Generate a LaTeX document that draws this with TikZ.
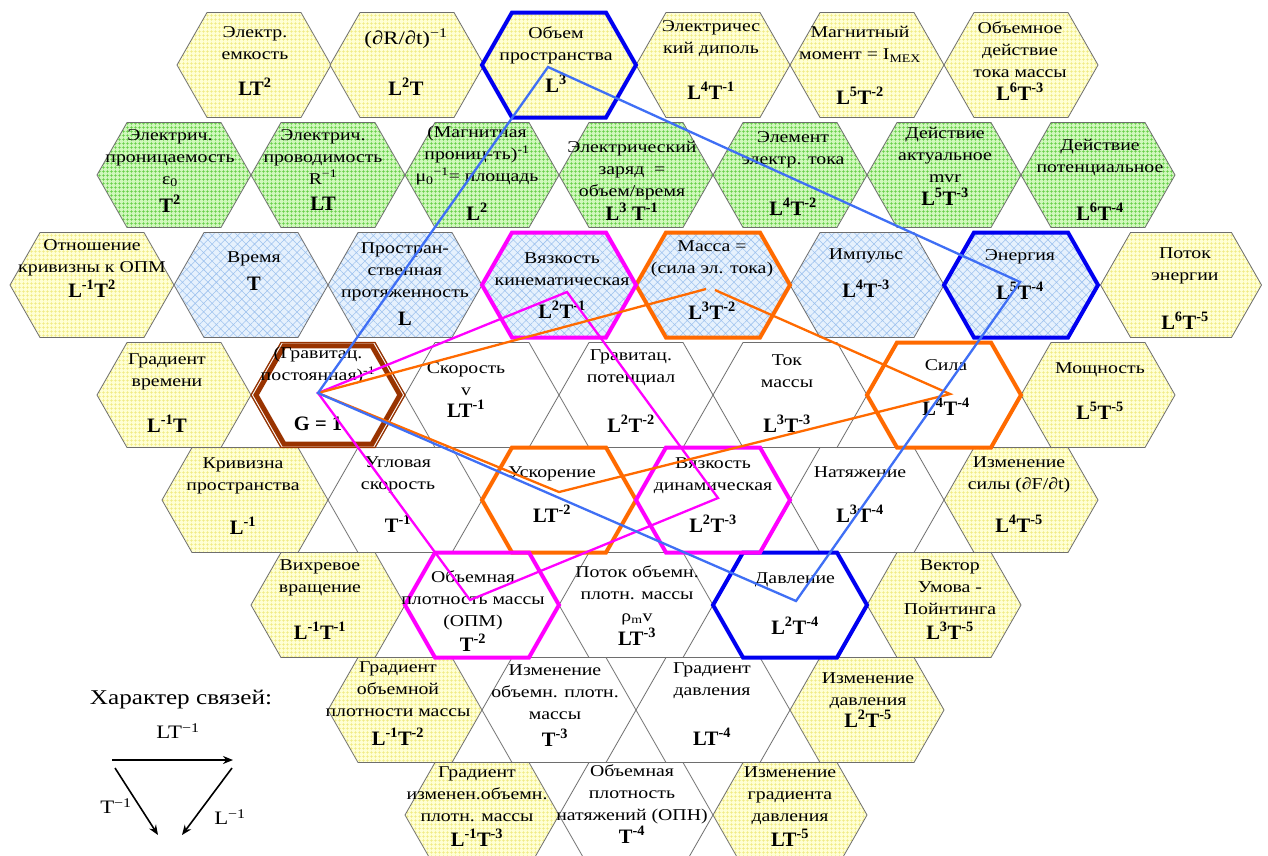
\documentclass[tikz,border=0pt]{standalone}
\usepackage{fontspec}
\setmainfont{Liberation Serif}
\newfontfamily\labfont{Liberation Serif}[FakeStretch=1.2]
\usetikzlibrary{patterns.meta,arrows.meta}
\definecolor{hexgray}{HTML}{6E6E6E}
\definecolor{yelbg}{HTML}{FFFFD4}
\definecolor{yelgrid}{HTML}{F0EA80}
\definecolor{grnbg}{HTML}{D0F8BC}
\definecolor{grngrid}{HTML}{5FCC40}
\definecolor{blubg}{HTML}{E6F1FD}
\definecolor{blugrid}{HTML}{9EC2EE}
\definecolor{hblue}{HTML}{0000F0}
\definecolor{horange}{HTML}{FF6A00}
\definecolor{hmag}{HTML}{FF00FF}
\definecolor{hbrown}{HTML}{993300}
\definecolor{lblue}{HTML}{3F6FF5}
\newcommand\su[1]{\textsuperscript{#1}}
\newcommand\hexline[4][77]{%
  \path[shift={(#3,#4)},#2] (-#1,0) -- ({-#1+30},-52.5) -- ({#1-30},-52.5) -- (#1,0) -- ({#1-30},52.5) -- ({-#1+30},52.5) -- cycle;}
\newcommand\hexcell[5][77]{%
  \hexline[#1]{#2}{#4}{#5}\coordinate (#3) at (#4,#5);}
\newcommand\celltext[6]{%
  \node[lab,anchor=north] (t#1) at (#2,#3) {#4};
  \node[frm,anchor=base] (f#1) at (#2,#5) {#6};}
\tikzset{
  cellbase/.style={draw=hexgray, line width=0.8pt},
  yel/.style={cellbase, preaction={fill=yelbg}, preaction={pattern={Hatch[angle=0,distance=4pt,line width=0.4pt]}, pattern color=yelgrid}},
  grn/.style={cellbase, preaction={fill=grnbg}, preaction={pattern={Hatch[angle=0,distance=4pt,line width=0.55pt]}, pattern color=grngrid}},
  blu/.style={cellbase, preaction={fill=blubg}, preaction={pattern={Hatch[angle=45,distance=6pt,line width=0.55pt]}, pattern color=blugrid}},
  wht/.style={cellbase, fill=white},
  hlblue/.style={draw=hblue, line width=4pt},
  hlorange/.style={draw=horange, line width=4pt},
  hlmag/.style={draw=hmag, line width=4pt},
  lab/.style={font=\labfont\fontsize{16.5}{22}\selectfont, align=center, inner sep=0pt},
  frm/.style={font=\fontsize{20.5}{24}\selectfont\bfseries, inner sep=0pt},
  legtext/.style={font=\labfont\fontsize{19}{23}\selectfont, inner sep=0pt},
  legarrow/.style={line width=1.6pt, -{Stealth[length=10pt,width=8pt]}},
  linkblue/.style={draw=lblue, line width=2.3pt},
  linkorange/.style={draw=horange, line width=2.3pt},
  linkmag/.style={draw=hmag, line width=2.3pt},
}
\begin{document}
\begin{tikzpicture}[x=1pt,y=-1pt]
\useasboundingbox (0,0) rectangle (1268,855);
\fill[white] (0,0) rectangle (1268,855);
% ---------- cells ----------
% row 1
\hexcell{yel}{hA1}{254}{65}
\hexcell{yel}{hA2}{407}{65}
\hexcell{yel}{hA3}{559}{65}
\hexcell{yel}{hA4}{713}{65}
\hexcell{yel}{hA5}{867}{65}
\hexcell{yel}{hA6}{1021}{65}
% row 2
\hexcell{grn}{hB1}{174}{175}
\hexcell{grn}{hB2}{328}{175}
\hexcell{grn}{hB3}{482}{175}
\hexcell{grn}{hB4}{636}{175}
\hexcell{grn}{hB5}{790}{175}
\hexcell{grn}{hB6}{944}{175}
\hexcell{grn}{hB7}{1098}{175}
% row 3
\hexcell[82]{yel}{hC1}{92}{285}
\hexcell{blu}{hC2}{251}{285}
\hexcell{blu}{hC3}{405}{285}
\hexcell{blu}{hC4}{559}{285}
\hexcell{blu}{hC5}{713}{285}
\hexcell{blu}{hC6}{867}{285}
\hexcell{blu}{hC7}{1021}{285}
\hexcell[80.5]{yel}{hC8}{1181}{285}
% row 4
\hexcell{yel}{hD1}{174}{395}
\hexcell{wht}{hD2}{328}{395}
\hexcell{wht}{hD3}{482}{395}
\hexcell{wht}{hD4}{636}{395}
\hexcell{wht}{hD5}{790}{395}
\hexcell{wht}{hD6}{944}{395}
\hexcell{yel}{hD7}{1098}{395}
% row 5
\hexcell[83]{yel}{hE1}{245}{500}
\hexcell{wht}{hE2}{405}{500}
\hexcell{wht}{hE3}{559}{500}
\hexcell{wht}{hE4}{713}{500}
\hexcell{wht}{hE5}{867}{500}
\hexcell{yel}{hE6}{1021}{500}
% row 6
\hexcell{yel}{hF1}{328}{605}
\hexcell{wht}{hF2}{482}{605}
\hexcell{wht}{hF3}{636}{605}
\hexcell{wht}{hF4}{790}{605}
\hexcell{yel}{hF5}{944}{605}
% row 7
\hexcell{yel}{hG1}{405}{710}
\hexcell{wht}{hG2}{559}{710}
\hexcell{wht}{hG3}{713}{710}
\hexcell{yel}{hG4}{867}{710}
% row 8
\hexcell{yel}{hH1}{482}{815}
\hexcell{wht}{hH2}{636}{815}
\hexcell{yel}{hH3}{790}{815}
% ---------- highlighted borders ----------
\hexline{hlblue}{559}{65}
\hexline{hlblue}{1021}{285}
\hexline{hlblue}{790}{605}
\hexline{hlorange}{713}{285}
\hexline{hlorange}{944}{395}
\hexline{hlorange}{559}{500}
\hexline{hlmag}{559}{285}
\hexline{hlmag}{713}{500}
\hexline{hlmag}{482}{605}
\hexline{draw=hbrown, line width=1.2pt}{328}{395}
\hexline{draw=hbrown, line width=5pt, scale=0.935}{328}{395}
% ---------- texts ----------
% row 1
\celltext{A1}{255}{26}{Электр.\\емкость}{95}{LT\su{2}}
\celltext{A2}{406}{29}{\fontsize{19}{22}\selectfont(∂R/∂t)\su{−1}}{95}{L\su{2}T}
\celltext{A3}{556}{26}{Объем\\пространства}{92}{L\su{3}}
\celltext{A4}{711}{20}{Электричес\\кий диполь}{99}{L\su{4}T\su{-1}}
\celltext{A5}{860}{26}{Магнитный\\момент = I\textsubscript{МЕХ}}{104}{L\su{5}T\su{-2}}
\celltext{A6}{1020}{21}{Объемное\\действие\\тока массы}{100}{L\su{6}T\su{-3}}
% row 2
\celltext{B1}{170}{129}{Электрич.\\проницаемость\\ε\textsubscript{0}}{212}{T\su{2}}
\celltext{B2}{323}{129}{Электрич.\\проводимость\\R\su{−1}}{210}{LT}
\celltext{B3}{477}{126}{(Магнитная\\прониц-ть)\su{-1}\\μ\textsubscript{0}\su{−1}= площадь}{220}{L\su{2}}
\celltext{B4}{632}{141}{Электрический\\заряд \ =\\объем/время}{220}{L\su{3} T\su{-1}}
\celltext{B5}{793}{131}{Элемент\\электр. тока}{215}{L\su{4}T\su{-2}}
\celltext{B6}{945}{127}{Действие\\актуальное\\mvr}{205}{L\su{5}T\su{-3}}
\celltext{B7}{1100}{139}{Действие\\потенциальное}{220}{L\su{6}T\su{-4}}
% row 3
\celltext{C1}{92}{239}{Отношение\\кривизны к ОПМ}{297}{L\su{-1}T\su{2}}
\celltext{C2}{254}{251}{Время}{290}{T}
\celltext{C3}{405}{242}{Простран-\\ственная\\протяженность}{325}{L}
\celltext{C4}{562}{252}{Вязкость\\кинематическая}{318}{L\su{2}T\su{-1}}
\celltext{C5}{712}{240}{Масса =\\(сила эл. тока)}{319}{L\su{3}T\su{-2}}
\celltext{C6}{866}{248}{Импульс}{297}{L\su{4}T\su{-3}}
\celltext{C7}{1020}{249}{Энергия}{299}{L\su{5}T\su{-4}}
\celltext{C8}{1185}{247}{Поток\\энергии}{329}{L\su{6}T\su{-5}}
% row 4
\celltext{D1}{167}{353}{Градиент\\времени}{432}{L\su{-1}T}
\celltext{D2}{318}{347}{(Гравитац.\\постоянная)\su{-1}}{430}{G = 1}
\celltext{D3}{466}{362}{Скорость\\v}{417}{LT\su{-1}}
\celltext{D4}{631}{349}{Гравитац.\\потенциал}{432}{L\su{2}T\su{-2}}
\celltext{D5}{787}{354}{Ток\\массы}{432}{L\su{3}T\su{-3}}
\celltext{D6}{946}{359}{Сила}{415}{L\su{4}T\su{-4}}
\celltext{D7}{1100}{362}{Мощность}{419}{L\su{5}T\su{-5}}
% row 5
\celltext{E1}{243}{457}{Кривизна\\пространства}{534}{L\su{-1}}
\celltext{E2}{398}{456}{Угловая\\скорость}{532}{T\su{-1}}
\celltext{E3}{552}{466}{Ускорение}{522}{LT\su{-2}}
\celltext{E4}{713}{457}{Вязкость\\динамическая}{532}{L\su{2}T\su{-3}}
\celltext{E5}{860}{466}{Натяжение}{522}{L\su{3}T\su{-4}}
\celltext{E6}{1019}{456}{Изменение\\силы (∂F/∂t)}{532}{L\su{4}T\su{-5}}
% row 6
\celltext{F1}{320}{559}{Вихревое\\вращение}{639}{L\su{-1}T\su{-1}}
\celltext{F2}{473}{570}{Объемная\\плотность массы\\(ОПМ)}{651}{T\su{-2}}
\celltext{F3}{637}{565}{Поток объемн.\\плотн. массы\\ρ\textsubscript{m}v}{645}{LT\su{-3}}
\celltext{F4}{795}{572}{Давление}{634}{L\su{2}T\su{-4}}
\celltext{F5}{950}{559}{Вектор\\Умова -\\Пойнтинга}{639}{L\su{3}T\su{-5}}
% row 7
\celltext{G1}{398}{661}{Градиент\\объемной\\плотности массы}{745}{L\su{-1}T\su{-2}}
\celltext{G2}{555}{664}{Изменение\\объемн. плотн.\\массы}{746}{T\su{-3}}
\celltext{G3}{712}{662}{Градиент\\давления}{745}{LT\su{-4}}
\celltext{G4}{868}{672}{Изменение\\давления}{727}{L\su{2}T\su{-5}}
% row 8
\celltext{H1}{477}{766}{Градиент\\изменен.объемн.\\плотн. массы}{846}{L\su{-1}T\su{-3}}
\celltext{H2}{632}{764}{Объемная\\плотность\\натяжений (ОПН)}{843}{T\su{-4}}
\celltext{H3}{790}{766}{Изменение\\градиента\\давления}{846}{LT\su{-5}}
% ---------- link polygons ----------
\coordinate (pV) at (548,67);
\coordinate (pE) at (1020,282);
\coordinate (pD) at (796,601);
\coordinate (pG) at (318,393);
\coordinate (pMa) at (706,289);
\coordinate (pMb) at (715,290);
\coordinate (pS) at (950,394);
\coordinate (pU) at (559,492);
\coordinate (pK) at (567,292);
\coordinate (pN) at (718,498);
\coordinate (pO) at (470,600);
\draw[linkmag] (pG) -- (pK) -- (pN) -- (pO) -- cycle;
\draw[linkorange] (pG) -- (pMa);
\draw[linkorange] (pMb) -- (pS) -- (pU) -- (pG);
\draw[linkblue] (pV) -- (pE) -- (pD) -- (pG) -- cycle;
% ---------- legend ----------
\node[legtext, font=\labfont\fontsize{21}{25}\selectfont] (lgTitle) at (181,700) {Характер связей:};
\node[legtext] (lgLT) at (178,731) {LT\su{−1}};
\node[legtext] (lgT) at (116,806) {T\su{−1}};
\node[legtext] (lgL) at (230,817) {L\su{−1}};
\coordinate (la1) at (112,760);
\coordinate (la2) at (233,760);
\coordinate (lb1) at (115,768);
\coordinate (lb2) at (158,835);
\coordinate (lc1) at (232,768);
\coordinate (lc2) at (182,835);
\draw[legarrow] (la1) -- (la2);
\draw[legarrow] (lb1) -- (lb2);
\draw[legarrow] (lc1) -- (lc2);
\end{tikzpicture}
\end{document}
